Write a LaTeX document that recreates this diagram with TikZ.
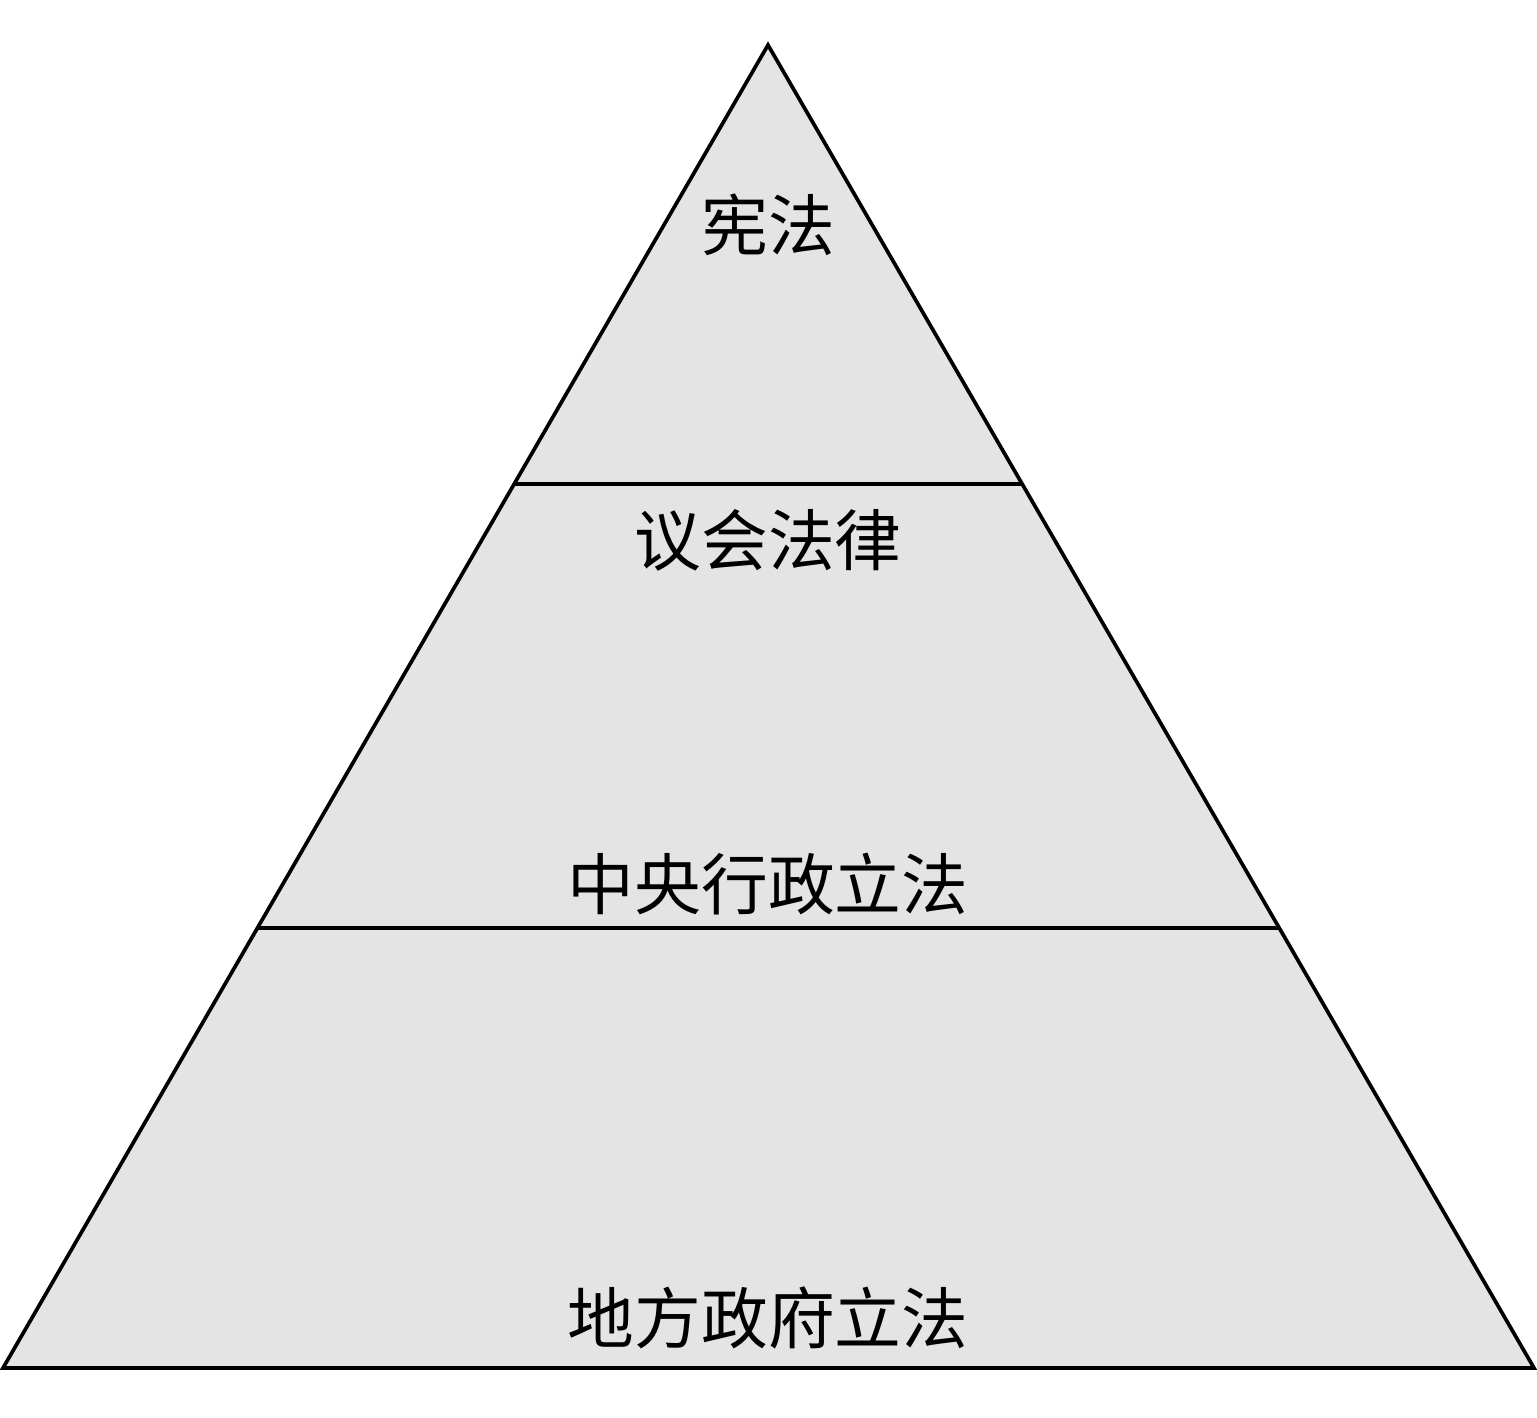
\documentclass[tikz,border=0pt]{standalone}
\usepackage{fontspec}
\newfontfamily\cjk{Noto Sans CJK SC}
\usetikzlibrary{positioning}
\definecolor{pyrfill}{RGB}{228,228,228}

\begin{document}
\begin{tikzpicture}[x=0.02cm, y=-0.02cm,
        level/.style = {font=\cjk\fontsize{38}{45}\selectfont, inner sep=0pt},
        edge/.style = {line width=2.1pt}]
        \useasboundingbox (0,0) rectangle (1537,1417);
        \coordinate (top) at (768,45);
        \coordinate (bl) at (3,1368);
        \coordinate (br) at (1534,1368);
        \coordinate (l1) at (514,484);
        \coordinate (r1) at (1022,484);
        \coordinate (l2) at (257,928);
        \coordinate (r2) at (1279,928);
        \draw[edge, fill=pyrfill] (top) -- (br) -- (bl) -- cycle;
        \draw[edge] (l1) -- (r1);
        \draw[edge] (l2) -- (r2);
        \node[level] (1) at (768,225) {宪法};
        \node[level] (2) at (768,540) {议会法律};
        \node[level] (3) at (768,884) {中央行政立法};
        \node[level] (4) at (768,1318) {地方政府立法};
\end{tikzpicture}
\end{document}
